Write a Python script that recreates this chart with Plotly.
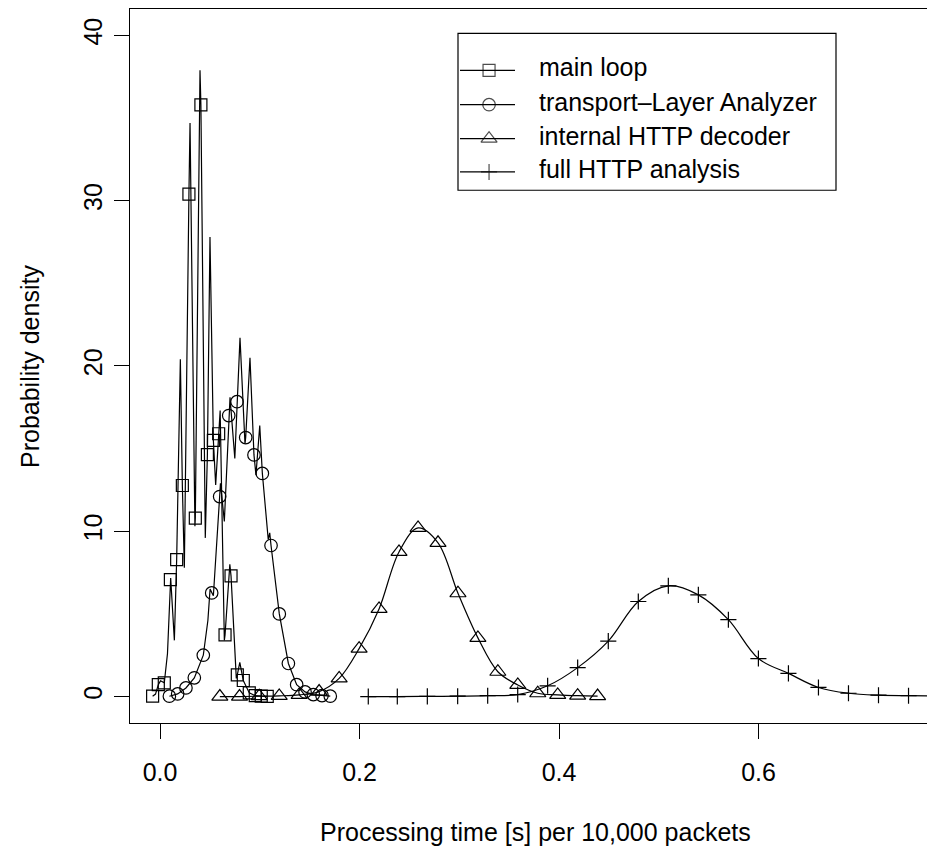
import plotly.graph_objects as go

# ---- main loop: density curve vertices and plotted symbols ----
main_line_x = [-0.0074, -0.0045, -0.0017, 0.0005, 0.0043, 0.0075, 0.0107, 0.0144, 0.0167,
               0.0204, 0.0224, 0.0244, 0.0290, 0.0301, 0.0350, 0.0354, 0.0401, 0.0410,
               0.0454, 0.0475, 0.0501, 0.0535, 0.0558, 0.0588, 0.0603, 0.0645, 0.0652,
               0.0700, 0.0712, 0.0765, 0.0775, 0.0800, 0.0835, 0.0895, 0.0955, 0.1015, 0.1075]
main_line_y = [0.02, 0.15, 0.72, 0.95, 0.83, 2.6, 7.17, 3.4, 8.28,
               20.4, 12.77, 7.8, 30.4, 34.7, 10.3, 10.8, 37.9, 35.8,
               9.6, 14.64, 27.8, 15.5, 12.8, 15.9, 17.3, 3.4, 3.73,
               8.0, 7.3, 1.1, 1.31, 2.07, 0.97, 0.22, 0.05, 0.02, 0.01]
main_pts_x = [-0.0074, -0.0017, 0.0043, 0.0104, 0.0167, 0.0224, 0.0290, 0.0354, 0.0410, 0.0475,
              0.0535, 0.0588, 0.0652, 0.0712, 0.0775, 0.0835, 0.0895, 0.0955, 0.1015, 0.1075]
main_pts_y = [0.02, 0.72, 0.83, 7.07, 8.28, 12.77, 30.4, 10.8, 35.8, 14.64,
              15.5, 15.9, 3.73, 7.3, 1.31, 0.97, 0.22, 0.05, 0.02, 0.01]

# ---- transport-layer analyzer ----
tl_line_x = [0.0094, 0.0177, 0.0260, 0.0344, 0.0434, 0.0480, 0.0502, 0.0518, 0.0535, 0.0598,
             0.0606, 0.0645, 0.0689, 0.0702, 0.0750, 0.0772, 0.0802, 0.0852, 0.0859, 0.0902,
             0.0942, 0.0962, 0.1000, 0.1026, 0.1085, 0.1100, 0.1113, 0.1196, 0.1287, 0.1370,
             0.1454, 0.1537, 0.1624, 0.1707]
tl_line_y = [0.02, 0.16, 0.52, 1.13, 2.5, 4.6, 6.5, 6.27, 6.1, 12.1,
             12.9, 10.6, 17.0, 18.1, 14.4, 17.84, 21.7, 15.3, 15.67, 20.5,
             14.62, 13.4, 16.4, 13.5, 9.5, 9.9, 9.14, 5.0, 2.0, 0.72,
             0.28, 0.12, 0.06, 0.02]
tl_pts_x = [0.0094, 0.0177, 0.0260, 0.0344, 0.0434, 0.0518, 0.0598, 0.0689, 0.0772, 0.0859,
            0.0942, 0.1026, 0.1113, 0.1196, 0.1287, 0.1370, 0.1454, 0.1537, 0.1624, 0.1707]
tl_pts_y = [0.02, 0.16, 0.52, 1.13, 2.5, 6.27, 12.1, 17.0, 17.84, 15.67,
            14.62, 13.5, 9.14, 5.0, 2.0, 0.72, 0.28, 0.12, 0.06, 0.02]

# ---- internal HTTP decoder ----
dec_x = [0.0600, 0.0797, 0.0995, 0.1195, 0.1395, 0.1595, 0.1796, 0.1996, 0.2196, 0.2396,
         0.2587, 0.2787, 0.2987, 0.3187, 0.3387, 0.3587, 0.3787, 0.3987, 0.4187, 0.4387]
dec_y = [0.0, 0.0, 0.02, 0.04, 0.1, 0.3, 1.1, 2.9, 5.3, 8.75,
         10.2, 9.3, 6.25, 3.55, 1.5, 0.7, 0.2, 0.1, 0.05, 0.03]

# ---- full HTTP analysis ----
full_line_x = [0.2088, 0.2379, 0.2680, 0.2984, 0.3285, 0.3586, 0.3886, 0.4187, 0.4494, 0.4795,
               0.5096, 0.5397, 0.5698, 0.5999, 0.6300, 0.6601, 0.6902, 0.7203, 0.7504, 0.7800]
full_line_y = [0.0, 0.0, 0.01, 0.02, 0.05, 0.12, 0.65, 1.75, 3.35, 5.75,
               6.7, 6.15, 4.65, 2.3, 1.4, 0.55, 0.2, 0.08, 0.05, 0.03]
full_pts_x = full_line_x[:-1]
full_pts_y = full_line_y[:-1]

x_ticks = [0.0, 0.2, 0.4, 0.6]
x_tick_text = ["0.0", "0.2", "0.4", "0.6"]
y_ticks = [0, 10, 20, 30, 40]
y_tick_text = ["0", "10", "20", "30", "40"]

series_names = ["main loop", "transport\u2013Layer Analyzer", "internal HTTP decoder", "full HTTP analysis"]
series_symbols = ["square-open", "circle-open", "triangle-up-open", "cross-thin-open"]
series_sizes = [12, 12.5, 14, 11.5]

FONT = "Liberation Sans, Arial, Helvetica, sans-serif"
INK = "black"
LW = 1.2

fig = go.Figure()


def add_curve(lx, ly, shape):
    fig.add_trace(go.Scatter(x=lx, y=ly, mode="lines",
                             line=dict(color=INK, width=LW, shape=shape),
                             showlegend=False, hoverinfo="skip"))


def add_points(px, py, k):
    fig.add_trace(go.Scatter(x=px, y=py, mode="markers", name=series_names[k],
                             marker=dict(symbol=series_symbols[k], size=series_sizes[k],
                                         color=INK, line=dict(color=INK, width=LW)),
                             showlegend=False))


add_curve(main_line_x, main_line_y, "linear")
add_points(main_pts_x, main_pts_y, 0)
add_curve(tl_line_x, tl_line_y, "linear")
add_points(tl_pts_x, tl_pts_y, 1)
add_curve(dec_x, dec_y, "spline")
add_points(dec_x, dec_y, 2)
add_curve(full_line_x, full_line_y, "spline")
add_points(full_pts_x, full_pts_y, 3)

# plot region in pixels
W, H = 927, 850
L, R, T, B = 130, 0, 8.5, 126.5
pw, ph = W - L - R, H - T - B


def px_x(p):
    return (p - L) / pw


def px_y(p):
    return (H - B - p) / ph


# legend box drawn by hand
shapes = [dict(type="rect", xref="paper", yref="paper",
               x0=px_x(458), x1=px_x(836), y0=px_y(190), y1=px_y(33),
               line=dict(color=INK, width=LW), fillcolor="rgba(0,0,0,0)", layer="above")]
row_px = [70, 104.3, 138.3, 171.7]
annotations = []
for k, ry in enumerate(row_px):
    shapes.append(dict(type="line", xref="paper", yref="paper",
                       x0=px_x(460), x1=px_x(515), y0=px_y(ry), y1=px_y(ry),
                       line=dict(color=INK, width=LW), layer="above"))
    annotations.append(dict(xref="paper", yref="paper", x=px_x(537), y=px_y(ry - 3),
                            xanchor="left", yanchor="middle", showarrow=False,
                            text=series_names[k], font=dict(family=FONT, size=25, color=INK)))

fig.add_trace(go.Scatter(x=[0.4505] * 4, y=[px_y(r) for r in row_px],
                         xaxis="x2", yaxis="y2", mode="markers",
                         marker=dict(symbol=series_symbols, size=series_sizes, color=INK,
                                     line=dict(color=INK, width=LW)),
                         showlegend=False, hoverinfo="skip"))

annotations.append(dict(xref="paper", yref="paper", x=px_x(535), y=px_y(833),
                        xanchor="center", yanchor="middle", showarrow=False,
                        text="Processing time [s] per 10,000 packets",
                        font=dict(family=FONT, size=25, color=INK)))
annotations.append(dict(xref="paper", yref="paper", x=px_x(30), y=0.5,
                        xanchor="center", yanchor="middle", showarrow=False, textangle=-90,
                        text="Probability density",
                        font=dict(family=FONT, size=25, color=INK)))

fig.update_layout(
    width=W, height=H,
    margin=dict(l=L, r=R, t=T, b=B, pad=0),
    paper_bgcolor="white", plot_bgcolor="white",
    showlegend=False,
    font=dict(family=FONT, size=25, color=INK),
    xaxis=dict(range=[-0.03008, 0.76892], tickvals=x_ticks, ticktext=x_tick_text,
               showgrid=False, zeroline=False, showline=True, mirror=True,
               linecolor=INK, linewidth=LW, ticks="outside", ticklen=15,
               tickwidth=LW, tickcolor=INK, ticklabelstandoff=12,
               tickfont=dict(family=FONT, size=25, color=INK)),
    yaxis=dict(range=[-1.601, 41.6], tickvals=y_ticks, ticktext=y_tick_text,
               showgrid=False, zeroline=False, showline=True, mirror=False,
               linecolor=INK, linewidth=LW, ticks="outside", ticklen=15,
               tickwidth=LW, tickcolor=INK, tickangle=-90, ticklabelstandoff=2,
               tickfont=dict(family=FONT, size=25, color=INK)),
    xaxis2=dict(overlaying="x", range=[0, 1], visible=False),
    yaxis2=dict(overlaying="y", range=[0, 1], visible=False),
    shapes=shapes,
    annotations=annotations,
)

fig.write_html("out.html")
